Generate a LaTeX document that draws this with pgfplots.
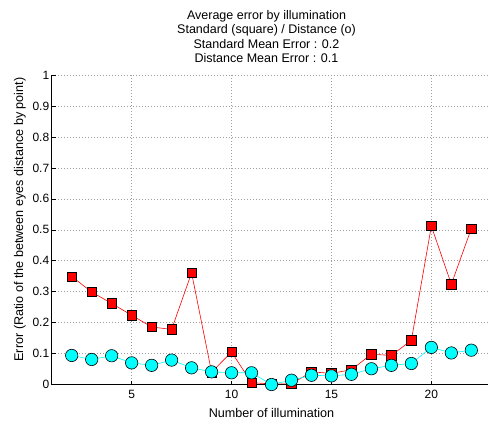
\documentclass[border=0pt]{standalone}
\usepackage{fontspec}
\setmainfont{Liberation Sans}
\usepackage{pgfplots}
\pgfplotsset{compat=1.18}
\definecolor{mred}{RGB}{255,0,0}
\definecolor{mcyan}{RGB}{0,255,255}
\begin{document}
\begin{tikzpicture}
\begin{axis}[
  scale only axis, width=439.3pt, height=309.3pt,
  xmin=1, xmax=23, ymin=0, ymax=1,
  axis x line*=bottom, axis y line*=left,
  xtick={5,10,15,20},
  ytick={0,0.1,0.2,0.3,0.4,0.5,0.6,0.7,0.8,0.9,1},
  yticklabels={0,0.1,0.2,0.3,0.4,0.5,0.6,0.7,0.8,0.9,1},
  /pgf/number format/assume math mode=true,
  grid=major,
  major grid style={gray!75, line width=0.5pt, dash pattern=on 0.6pt off 2.4pt},
  tick align=inside, major tick length=4pt,
  tick style={black, line width=0.5pt},
  axis line style={black, line width=0.6pt},
  tick label style={font=\fontsize{12}{14}\selectfont},
  xticklabel style={yshift=-2.5pt},
  yticklabel style={xshift=1pt},
  label style={font=\fontsize{12.6}{14}\selectfont},
  xlabel style={yshift=-2pt},
  ylabel style={at={(ticklabel cs:0.53)}, xshift=1pt},
  title style={align=center, font=\fontsize{12.5}{14.3}\selectfont, yshift=3pt, xshift=-5pt},
  title={Average error by illumination\\Standard (square) / Distance (o)\\Standard Mean Error : 0.2\\Distance Mean Error : 0.1},
  xlabel={Number of illumination},
  ylabel={Error (Ratio of the between eyes distance by point)},
  clip=false,
]
\addplot[mred, line width=0.6pt, mark=square*, mark size=4.7pt,
  mark options={fill=mred, draw=black, line width=0.6pt, solid}] coordinates {
(2,0.349) (3,0.299) (4,0.262) (5,0.224) (6,0.186) (7,0.178) (8,0.361) (9,0.04) (10,0.105) (11,0.006) (12,0.002) (13,0.002) (14,0.041) (15,0.036) (16,0.048) (17,0.098) (18,0.094) (19,0.143) (20,0.512) (21,0.324) (22,0.504)
};
\addplot[mcyan, line width=0.6pt, mark=*, mark size=6.2pt,
  mark options={fill=mcyan, draw=black, line width=0.6pt, solid}] coordinates {
(2,0.094) (3,0.081) (4,0.093) (5,0.070) (6,0.062) (7,0.079) (8,0.054) (9,0.041) (10,0.038) (11,0.038) (12,0.0) (13,0.014) (14,0.030) (15,0.028) (16,0.033) (17,0.051) (18,0.062) (19,0.068) (20,0.120) (21,0.102) (22,0.111)
};
\end{axis}
\pgfresetboundingbox
\path[use as bounding box] ([xshift=-51.7pt,yshift=-36.7pt]current axis.south west) rectangle ([xshift=-3.3pt,yshift=75pt]current axis.north east);
\end{tikzpicture}
\end{document}
